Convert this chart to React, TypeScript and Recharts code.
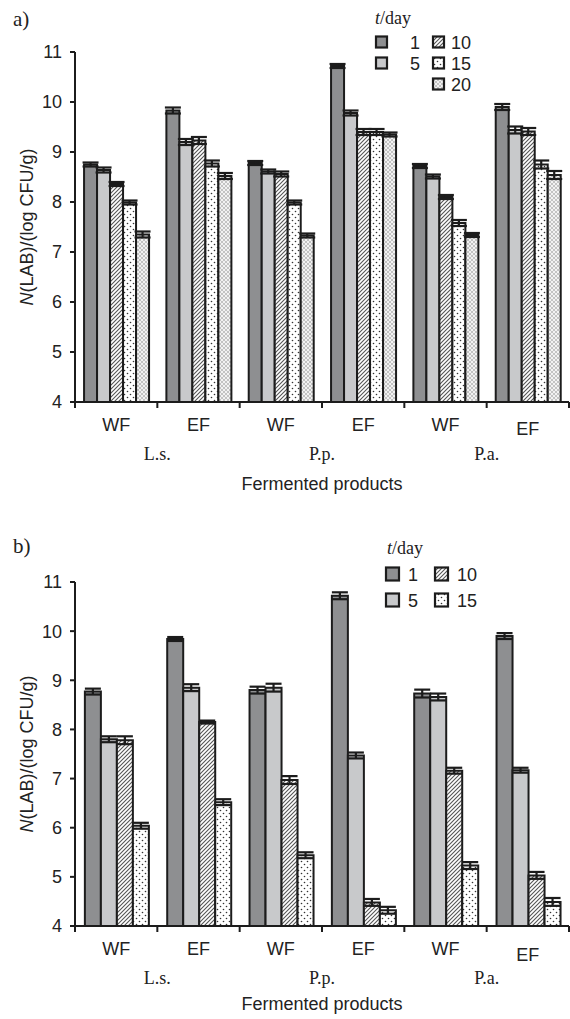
import { Bar, BarChart, ErrorBar, Legend, XAxis, YAxis } from 'recharts';

const categories = ['WF', 'EF', 'WF', 'EF', 'WF', 'EF'];
const groups = ['L.s.', 'P.p.', 'P.a.'];
const yTicks = [4, 5, 6, 7, 8, 9, 10, 11];

// panel a) – days 1, 5, 10, 15, 20
const daysA = ['1', '5', '10', '15', '20'];
const a1 = [8.75, 9.83, 8.78, 10.72, 8.72, 9.9];
const a5 = [8.64, 9.2, 8.61, 9.78, 8.51, 9.44];
const a10 = [8.36, 9.23, 8.56, 9.4, 8.1, 9.41];
const a15 = [7.99, 8.77, 7.99, 9.4, 7.58, 8.75];
const a20 = [7.35, 8.52, 7.33, 9.35, 7.34, 8.54];
const errA1 = [0.04, 0.06, 0.04, 0.04, 0.04, 0.06];
const errA5 = [0.05, 0.06, 0.04, 0.05, 0.04, 0.07];
const errA10 = [0.04, 0.07, 0.05, 0.06, 0.04, 0.07];
const errA15 = [0.04, 0.06, 0.04, 0.06, 0.06, 0.08];
const errA20 = [0.06, 0.06, 0.04, 0.04, 0.04, 0.08];

// panel b) – days 1, 5, 10, 15
const daysB = ['1', '5', '10', '15'];
const b1 = [8.77, 9.84, 8.8, 10.72, 8.73, 9.9];
const b5 = [7.8, 8.85, 8.85, 7.47, 8.66, 7.17];
const b10 = [7.78, 8.15, 6.97, 4.48, 7.16, 5.03];
const b15 = [6.04, 6.52, 5.44, 4.32, 5.23, 4.49];
const errB1 = [0.06, 0.04, 0.07, 0.07, 0.08, 0.06];
const errB5 = [0.06, 0.07, 0.08, 0.06, 0.07, 0.05];
const errB10 = [0.08, 0.03, 0.08, 0.07, 0.06, 0.07];
const errB15 = [0.06, 0.06, 0.06, 0.07, 0.07, 0.08];

const fills = ['#8e8f91', '#c8c9cb', 'url(#pHatch)', 'url(#pDots)', 'url(#pCross)'];

const INK = '#1c1c1c';
const SANS = '"Liberation Sans", Arial, sans-serif';
const SERIF = '"Liberation Serif", "Times New Roman", serif';

function buildRows(series: number[][], errs: number[][]) {
  return categories.map((cat, i) => {
    const row: Record<string, number | string> = { cat };
    series.forEach((s, k) => {
      row[`v${k}`] = s[i];
      row[`e${k}`] = errs[k][i];
    });
    return row;
  });
}

const rowsA = buildRows([a1, a5, a10, a15, a20], [errA1, errA5, errA10, errA15, errA20]);
const rowsB = buildRows([b1, b5, b10, b15], [errB1, errB5, errB10, errB15]);

function CatTick(props: any) {
  const { x, y, payload, index, lastShift } = props;
  const i = payload?.index ?? index;
  const half = payload?.offset || 41.2;
  return (
    <g>
      <line x1={x - half} x2={x - half} y1={y} y2={y + 6} stroke={INK} strokeWidth={2} />
      {i === categories.length - 1 && (
        <line x1={x + half} x2={x + half} y1={y} y2={y + 6} stroke={INK} strokeWidth={2} />
      )}
      <text
        x={x}
        y={y + 29 + (i === categories.length - 1 ? lastShift : 0)}
        textAnchor="middle"
        fontSize={18}
        fontFamily={SANS}
        fill="#222"
      >
        {categories[i]}
      </text>
      {i % 2 === 0 && (
        <text x={x + half} y={y + 58} textAnchor="middle" fontSize={18} fontFamily={SERIF} fill="#222">
          {groups[i / 2]}
        </text>
      )}
    </g>
  );
}

function YLabel({ viewBox }: any) {
  const cy = viewBox.y + viewBox.height / 2;
  return (
    <text
      x={27}
      y={cy}
      transform={`rotate(-90, 27, ${cy})`}
      textAnchor="middle"
      dominantBaseline="central"
      fontSize={18}
      fontFamily={SANS}
      fill="#222"
    >
      <tspan fontStyle="italic">N</tspan>(LAB)/(log CFU/g)
    </text>
  );
}

function XLabel({ viewBox, dy }: any) {
  return (
    <text
      x={viewBox.x + viewBox.width / 2}
      y={viewBox.y + dy}
      textAnchor="middle"
      fontSize={18}
      fontFamily={SANS}
      fill="#222"
    >
      Fermented products
    </text>
  );
}

function DayLegend({ days, cfg }: any) {
  const rows = Math.ceil(days.length / 2) === 3 ? 3 : 2;
  return (
    <svg width={130} height={110} style={{ overflow: 'visible' }}>
      <text x={cfg.titleX} y={cfg.titleY} fontSize={18} fontFamily={SERIF} fill="#222">
        <tspan fontStyle="italic">t</tspan>/day
      </text>
      {days.map((d: string, k: number) => {
        const col = k < 2 ? 0 : 1;
        const row = col === 0 ? k : k - 2;
        const cy = cfg.rowY[Math.min(row, rows)];
        const sx = col === 0 ? cfg.sq0 : cfg.sq1;
        return (
          <g key={d}>
            <rect
              x={sx}
              y={cy - cfg.sq / 2}
              width={cfg.sq}
              height={cfg.sq}
              fill={fills[k]}
              stroke={INK}
              strokeWidth={2.2}
            />
            <text
              x={col === 0 ? cfg.txt0 : cfg.txt1}
              y={cy + 6.5}
              textAnchor={col === 0 ? 'end' : 'start'}
              fontSize={18}
              fontFamily={SANS}
              fill="#222"
            >
              {d}
            </text>
          </g>
        );
      })}
    </svg>
  );
}

function Panel({ rows, days, height, xAxisHeight, barGap, legendLeft, legendCfg, lastShift, xLabelDy }: any) {
  return (
    <BarChart
      width={570}
      height={height}
      data={rows}
      margin={{ top: 52, right: 1, left: 0, bottom: 0 }}
      barCategoryGap={barGap}
      barGap={0}
    >
      <XAxis
        dataKey="cat"
        allowDuplicatedCategory
        interval={0}
        height={xAxisHeight}
        axisLine={{ stroke: INK, strokeWidth: 2 }}
        tickLine={false}
        tickSize={0}
        tickMargin={0}
        tick={<CatTick lastShift={lastShift} />}
        label={<XLabel dy={xLabelDy} />}
      />
      <YAxis
        width={75}
        domain={[4, 11]}
        ticks={yTicks}
        allowDataOverflow
        axisLine={{ stroke: INK, strokeWidth: 2 }}
        tickLine={{ stroke: INK, strokeWidth: 2 }}
        tickSize={5}
        tickMargin={8}
        tick={{ fontSize: 18, fontFamily: SANS, fill: '#222' }}
        label={<YLabel />}
      />
      <Legend
        layout="vertical"
        align="center"
        verticalAlign="middle"
        wrapperStyle={{ left: legendLeft, top: 0, width: 130 }}
        content={() => <DayLegend days={days} cfg={legendCfg} />}
      />
      {days.map((d: string, k: number) => (
        <Bar
          key={d}
          dataKey={`v${k}`}
          name={d}
          fill={fills[k]}
          stroke={INK}
          strokeWidth={2}
          isAnimationActive={false}
        >
          <ErrorBar dataKey={`e${k}`} direction="y" width={8} strokeWidth={2.2} stroke={INK} />
        </Bar>
      ))}
    </BarChart>
  );
}

export default function App() {
  return (
    <div style={{ position: 'absolute', left: 0, top: 0, width: 570, height: 1019, background: '#fff' }}>
      <svg width={0} height={0} style={{ position: 'absolute' }}>
        <defs>
          <pattern id="pHatch" patternUnits="userSpaceOnUse" width="4" height="4">
            <rect width="4" height="4" fill="#fff" />
            <path d="M-1,1 l2,-2 M0,4 l4,-4 M3,5 l2,-2" stroke="#555" strokeWidth="1.1" />
          </pattern>
          <pattern id="pDots" patternUnits="userSpaceOnUse" width="6" height="6">
            <rect width="6" height="6" fill="#fff" />
            <circle cx="1.5" cy="1.5" r="0.8" fill="#333" />
            <circle cx="4.5" cy="4.5" r="0.8" fill="#333" />
          </pattern>
          <pattern id="pCross" patternUnits="userSpaceOnUse" width="4" height="4">
            <rect width="4" height="4" fill="#f2f2f2" />
            <path d="M0,0 l4,4 M4,0 l-4,4" stroke="#b8b8b8" strokeWidth="0.8" />
          </pattern>
        </defs>
      </svg>

      <div style={{ position: 'absolute', left: 0, top: 0 }}>
        <Panel
          rows={rowsA}
          days={daysA}
          height={500}
          xAxisHeight={98}
          barGap="11%"
          legendLeft={370}
          legendCfg={{ titleX: 5, titleY: 24, rowY: [42, 63, 84], sq: 11, sq0: 6, sq1: 63, txt0: 50, txt1: 81 }}
          lastShift={4}
          xLabelDy={88}
        />
      </div>
      <div style={{ position: 'absolute', left: 0, top: 530 }}>
        <Panel
          rows={rowsB}
          days={daysB}
          height={489}
          xAxisHeight={93}
          barGap="12%"
          legendLeft={380}
          legendCfg={{ titleX: 7, titleY: 24, rowY: [44, 70, 70], sq: 13, sq0: 6, sq1: 55, txt0: 38, txt1: 77 }}
          lastShift={6}
          xLabelDy={84}
        />
      </div>

      <svg width={570} height={1019} style={{ position: 'absolute', left: 0, top: 0, pointerEvents: 'none' }}>
        <text x={13} y={26} fontSize={21} fontFamily={SERIF} fill="#222">a)</text>
        <text x={13} y={553} fontSize={21} fontFamily={SERIF} fill="#222">b)</text>
      </svg>
    </div>
  );
}
